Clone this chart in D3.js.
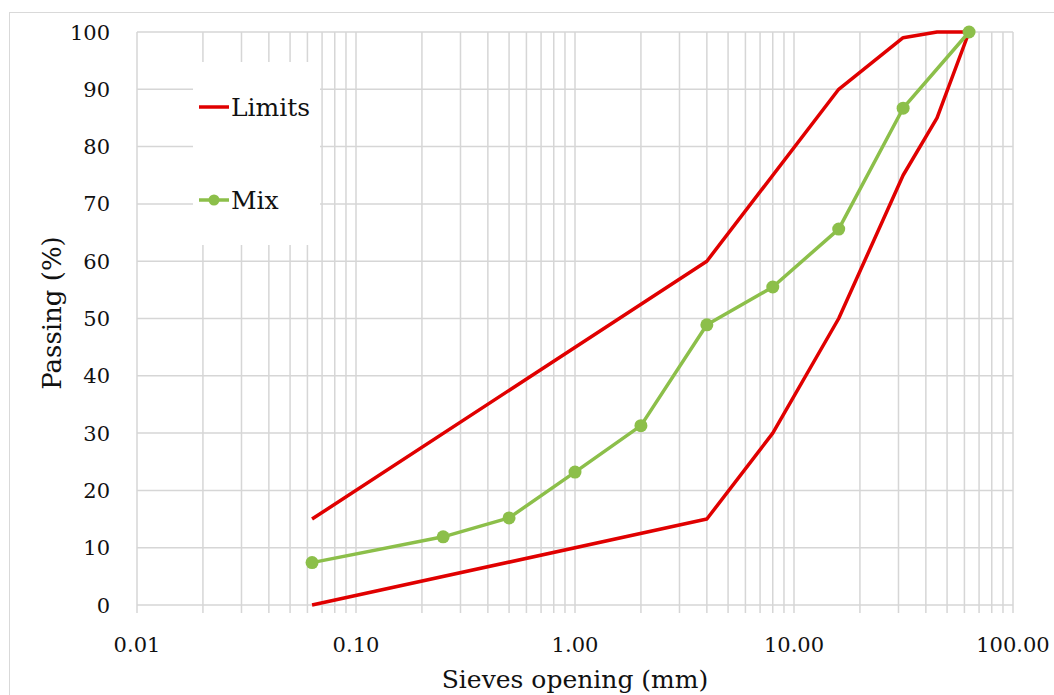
<!DOCTYPE html>
<html lang="en">
<head>
    <meta charset="UTF-8">
    <title>Sieve grading curve</title>
    <script src="https://d3js.org/d3.v7.min.js"></script>
    <style>
        body { margin: 0; background: #fff; }
        text { font-family: "DejaVu Serif", "Liberation Serif", serif; fill: #111; }
    </style>
</head>
<body>
    <div id="chart"></div>

    <script>
        // sieve sizes (mm) and passing (%)
        const upperSieves = [0.063, 4, 16, 31.5, 45, 63];
        const upperPassing = [15, 60, 90, 99, 100, 100];
        const lowerSieves = [0.063, 4, 8, 16, 31.5, 45, 63];
        const lowerPassing = [0, 15, 30, 50, 75, 85, 100];
        const mixSieves = [0.063, 0.25, 0.5, 1, 2, 4, 8, 16, 31.5, 63];
        const mixPassing = [7.4, 11.9, 15.2, 23.2, 31.3, 48.9, 55.5, 65.6, 86.7, 100];
        const xTicks = [0.01, 0.1, 1, 10, 100];
        const yTicks = [0, 10, 20, 30, 40, 50, 60, 70, 80, 90, 100];

        const width = 1054, height = 695;
        const svg = d3.select("#chart").append("svg")
            .attr("width", width)
            .attr("height", height);

        // chart border
        svg.append("rect")
            .attr("x", 9.5).attr("y", 12.5)
            .attr("width", width + 20).attr("height", height + 20)
            .attr("fill", "none").attr("stroke", "#d9d9d9");

        const x = d3.scaleLog().domain([0.01, 100]).range([137, 1013]);
        const y = d3.scaleLinear().domain([0, 100]).range([605, 32]);

        // minor + major vertical grid
        const gridX = [];
        for (let p = -2; p < 2; p++) {
            for (let m = 1; m < 10; m++) gridX.push(m * Math.pow(10, p));
        }
        gridX.push(100);

        const grid = svg.append("g").attr("stroke", "#d6d6d6").attr("stroke-width", 1.5);
        grid.selectAll("line.v").data(gridX).join("line")
            .attr("class", "v")
            .attr("x1", d => x(d)).attr("x2", d => x(d))
            .attr("y1", y(100)).attr("y2", y(0) + 8);
        grid.selectAll("line.h").data(yTicks).join("line")
            .attr("class", "h")
            .attr("x1", x(0.01)).attr("x2", x(100))
            .attr("y1", d => y(d)).attr("y2", d => y(d));

        // tick labels
        svg.append("g").selectAll("text").data(yTicks).join("text")
            .attr("x", 110).attr("y", d => y(d))
            .attr("dy", "0.36em")
            .attr("text-anchor", "end")
            .attr("font-size", 21)
            .text(d => d);

        svg.append("g").selectAll("text").data(xTicks).join("text")
            .attr("x", d => x(d)).attr("y", 652)
            .attr("text-anchor", "middle")
            .attr("font-size", 21)
            .text(d => d3.format(".2f")(d));

        // axis titles
        svg.append("text")
            .attr("x", 575).attr("y", 688)
            .attr("text-anchor", "middle")
            .attr("font-size", 25)
            .text("Sieves opening (mm)");

        svg.append("text")
            .attr("transform", "translate(61,313) rotate(-90)")
            .attr("text-anchor", "middle")
            .attr("font-size", 26)
            .text("Passing (%)");

        const red = "#e00000", green = "#8cbf4a";
        const line = d3.line().x(d => x(d[0])).y(d => y(d[1]));

        const upper = d3.zip(upperSieves, upperPassing);
        const lower = d3.zip(lowerSieves, lowerPassing);
        const mix = d3.zip(mixSieves, mixPassing);

        svg.append("path").datum(upper)
            .attr("d", line).attr("fill", "none")
            .attr("stroke", red).attr("stroke-width", 3.5).attr("stroke-linejoin", "round");
        svg.append("path").datum(lower)
            .attr("d", line).attr("fill", "none")
            .attr("stroke", red).attr("stroke-width", 3.5).attr("stroke-linejoin", "round");
        svg.append("path").datum(mix)
            .attr("d", line).attr("fill", "none")
            .attr("stroke", green).attr("stroke-width", 3.5).attr("stroke-linejoin", "round");
        svg.append("g").selectAll("circle").data(mix).join("circle")
            .attr("cx", d => x(d[0])).attr("cy", d => y(d[1]))
            .attr("r", 6.5).attr("fill", green);

        // legend with white box
        const legend = svg.append("g");
        legend.append("rect")
            .attr("x", 193).attr("y", 62)
            .attr("width", 127).attr("height", 183)
            .attr("fill", "#fff");
        legend.append("line")
            .attr("x1", 199).attr("x2", 229).attr("y1", 107).attr("y2", 107)
            .attr("stroke", red).attr("stroke-width", 3.5);
        legend.append("text")
            .attr("x", 231).attr("y", 107).attr("dy", "0.36em")
            .attr("font-size", 25).text("Limits");
        legend.append("line")
            .attr("x1", 199).attr("x2", 229).attr("y1", 200).attr("y2", 200)
            .attr("stroke", green).attr("stroke-width", 3.5);
        legend.append("circle")
            .attr("cx", 214).attr("cy", 200).attr("r", 5.5).attr("fill", green);
        legend.append("text")
            .attr("x", 231).attr("y", 200).attr("dy", "0.36em")
            .attr("font-size", 25).text("Mix");
    </script>
</body>
</html>
